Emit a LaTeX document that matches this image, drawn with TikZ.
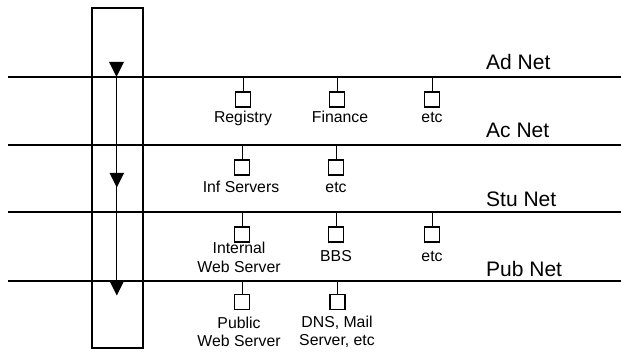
\documentclass[tikz,border=0pt]{standalone}
\usepackage{fontspec}
\setmainfont{Liberation Sans}
\begin{document}
\begin{tikzpicture}[x=1pt,y=-1pt,
  bus/.style={line width=1.8pt},
  devbox/.style={draw, line width=1.2pt, minimum size=15pt, inner sep=0pt},
  stub/.style={line width=1pt},
  lbl/.style={font=\fontsize{15.8}{18.8}\selectfont, align=center, inner sep=0pt, anchor=base},
  netlbl/.style={font=\fontsize{21}{25}\selectfont, inner sep=0pt, anchor=base west},
  tri/.style={fill=black}]
\useasboundingbox (0,0) rectangle (621,352);
% firewall frame
\node (fw) [draw, line width=1.3pt, minimum width=51pt, minimum height=340pt, inner sep=0pt] at (117.5,178) {};
% bus lines
\coordinate (adL) at (8,77);   \coordinate (adR) at (621,77);
\coordinate (acL) at (8,145);  \coordinate (acR) at (621,145);
\coordinate (stL) at (8,212);  \coordinate (stR) at (621,212);
\coordinate (puL) at (8,281);  \coordinate (puR) at (621,281);
\draw[bus] (adL) -- (adR);
\draw[bus] (acL) -- (acR);
\draw[bus] (stL) -- (stR);
\draw[bus] (puL) -- (puR);
% net labels
\node[netlbl] (adN) at (486,70) {Ad Net};
\node[netlbl] (acN) at (486,138) {Ac Net};
\node[netlbl] (stN) at (486,207) {Stu Net};
\node[netlbl] (puN) at (486,277) {Pub Net};
% flow arrow
\coordinate (a1) at (116.5,77);
\coordinate (a3) at (116.5,281);
\draw[line width=1.1pt] (a1) -- (a3);
\fill[tri] (109,62) -- (124,62) -- (116.5,77) -- cycle;
\fill[tri] (109.5,173) -- (124,173) -- (116.8,187.5) -- cycle;
\fill[tri] (109.5,281) -- (124,281) -- (116.8,295.5) -- cycle;
% Ad Net devices
\node[devbox] (reg) at (243,99.5) {};
\node[devbox] (fin) at (337,99.5) {};
\node[devbox] (ad3) at (432,99.5) {};
\draw[stub] (reg) -- (reg |- adL);
\draw[stub] (fin) -- (fin |- adL);
\draw[stub] (ad3) -- (ad3 |- adL);
\node[lbl] (regL) at (243,122.7) {Registry};
\node[lbl] (finL) at (340,123) {Finance};
\node[lbl] (ad3L) at (432,123) {etc};
% Ac Net devices
\node[devbox] (inf) at (242,167.5) {};
\node[devbox] (ac2) at (336,167.5) {};
\draw[stub] (inf) -- (inf |- acL);
\draw[stub] (ac2) -- (ac2 |- acL);
\node[lbl] (infL) at (241,193) {Inf Servers};
\node[lbl] (ac2L) at (336,193) {etc};
% Stu Net devices
\node[devbox] (iws) at (242,234.5) {};
\node[devbox] (bbs) at (336,234.5) {};
\node[devbox] (st3) at (432,234.5) {};
\draw[stub] (iws) -- (iws |- stL);
\draw[stub] (bbs) -- (bbs |- stL);
\draw[stub] (st3) -- (st3 |- stL);
\node[lbl] (iwsL) at (239,272.5) {Internal\\Web Server};
\node[lbl] (bbsL) at (336,262) {BBS};
\node[lbl] (st3L) at (432,262) {etc};
% Pub Net devices
\node[devbox] (pws) at (242,302) {};
\node[devbox] (dns) at (337.5,302) {};
\draw[stub] (pws) -- (pws |- puL);
\draw[stub] (dns) -- (dns |- puL);
\node[lbl] (pwsL) at (239,347) {Public\\Web Server};
\node[lbl] (dnsL) at (337,346) {DNS, Mail\\Server, etc};
\end{tikzpicture}
\end{document}
